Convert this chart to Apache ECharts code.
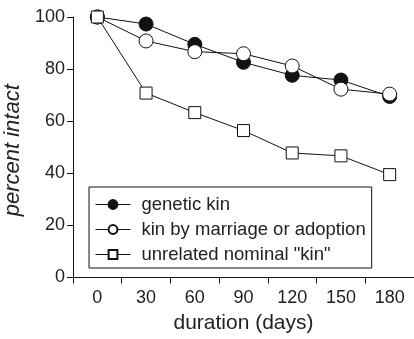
<!DOCTYPE html>
<html><head><meta charset="utf-8">
<script src="https://cdn.jsdelivr.net/npm/echarts@6/dist/echarts.min.js"></script>
<style>html,body{margin:0;padding:0;background:#fff}#c{width:414px;height:339px}</style>
</head><body><div id="c"></div>
<script>
const categories = ['0','30','60','90','120','150','180'];
const geneticKin = [100, 97.3, 89.5, 82.6, 77.6, 75.8, 69.5];
const kinByMarriage = [100, 90.8, 86.7, 85.9, 81.2, 72.3, 70.4];
const unrelatedKin = [100, 70.8, 63.3, 56.4, 47.8, 46.7, 39.5];
const yTicks = [0, 20, 40, 60, 80, 100];
const seriesNames = ['genetic kin', 'kin by marriage or adoption', 'unrelated nominal "kin"'];

const font = 'Liberation Sans, Arial, Helvetica, sans-serif';
const chart = echarts.init(document.getElementById('c'), null, {renderer: 'canvas'});
const lineStyle = {color: '#111', width: 1};
chart.setOption({
  animation: false,
  grid: {left: 73, right: 0, top: 17, bottom: 61.5, containLabel: false, outerBoundsMode: 'none'},
  legend: {
    orient: 'vertical', left: 89, top: 187,
    borderColor: '#111', borderWidth: 1,
    padding: [8, 6, 4, 6],
    itemGap: 6, itemWidth: 35, itemHeight: 11,
    lineStyle: {width: 1, color: '#111'},
    textStyle: {fontFamily: font, fontSize: 18.5, lineHeight: 18, color: '#222', padding: [0, 0, 0, 6]},
    data: seriesNames
  },
  xAxis: {
    type: 'category', data: categories, boundaryGap: true,
    name: 'duration (days)', nameLocation: 'middle', nameGap: 35,
    nameTextStyle: {fontFamily: font, fontSize: 21, color: '#222'},
    axisLine: {lineStyle: {color: '#111', width: 1}},
    axisTick: {show: true, length: 6, lineStyle: {color: '#111'}},
    axisLabel: {fontFamily: font, fontSize: 18, color: '#222', margin: 12}
  },
  yAxis: {
    type: 'value', min: 0, max: 100, interval: 20,
    name: 'percent intact', nameLocation: 'middle', nameGap: 36, nameRotate: 90,
    nameTextStyle: {fontFamily: font, fontSize: 22, color: '#222', fontStyle: 'italic', padding: [0, 6, 0, 0]},
    axisLine: {show: true, lineStyle: {color: '#111', width: 1}},
    axisTick: {show: true, length: 6, lineStyle: {color: '#111'}},
    axisLabel: {fontFamily: font, fontSize: 18, color: '#222', margin: 8},
    splitLine: {show: false}
  },
  series: [
    {name: seriesNames[0], type: 'line', data: geneticKin, symbol: 'circle', symbolSize: 14,
     lineStyle: lineStyle, itemStyle: {color: '#111', borderColor: '#111', borderWidth: 1}, z: 2},
    {name: seriesNames[1], type: 'line', data: kinByMarriage, symbol: 'circle', symbolSize: 14,
     lineStyle: lineStyle, itemStyle: {color: '#fff', borderColor: '#111', borderWidth: 1}, z: 3},
    {name: seriesNames[2], type: 'line', data: unrelatedKin, symbol: 'rect', symbolSize: 12,
     lineStyle: lineStyle, itemStyle: {color: '#fff', borderColor: '#111', borderWidth: 1}, z: 4}
  ]
});
</script></body></html>
